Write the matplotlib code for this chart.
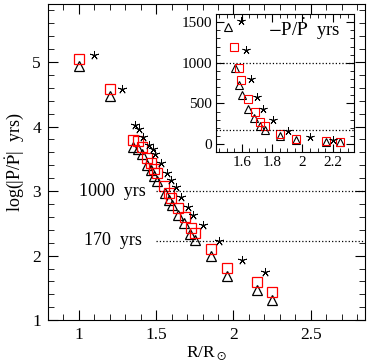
import numpy as np
import matplotlib.pyplot as plt
from matplotlib.ticker import MultipleLocator

plt.rcParams['font.family'] = 'Liberation Serif'
plt.rcParams['mathtext.fontset'] = 'stix'

# radius (R/Rsun) and log(|P/Pdot| yrs)
r_sq = [1.00, 1.20, 1.35, 1.383, 1.405, 1.443, 1.465, 1.486, 1.508, 1.55,
        1.583, 1.598, 1.641, 1.684, 1.723, 1.75, 1.852, 1.955, 2.153, 2.25]
lp_sq = [5.05, 4.58, 3.795, 3.77, 3.68, 3.51, 3.435, 3.343, 3.28, 3.077,
         2.974, 2.897, 2.743, 2.60, 2.426, 2.349, 2.10, 1.81, 1.585, 1.435]

r_tri = [1.00, 1.20, 1.35, 1.383, 1.405, 1.443, 1.465, 1.486, 1.508, 1.554,
         1.582, 1.602, 1.641, 1.679, 1.719, 1.752, 1.852, 1.955, 2.153, 2.25]
lp_tri = [4.94, 4.47, 3.69, 3.66, 3.57, 3.40, 3.33, 3.24, 3.16, 2.97,
          2.86, 2.785, 2.63, 2.50, 2.34, 2.25, 2.00, 1.69, 1.47, 1.32]

r_star = [1.10, 1.28, 1.363, 1.389, 1.417, 1.454, 1.479, 1.492, 1.529, 1.568,
          1.596, 1.626, 1.660, 1.703, 1.739, 1.804, 1.905, 2.052, 2.202]
lp_star = [5.11, 4.58, 4.026, 3.965, 3.846, 3.718, 3.657, 3.574, 3.435, 3.282,
           3.18, 3.065, 2.905, 2.76, 2.635, 2.478, 2.22, 1.94, 1.74]

fig = plt.figure(figsize=(3.75, 3.63), dpi=100)
ax = fig.add_axes([0.128, 0.118, 0.845, 0.871])

ax.plot(r_tri, lp_tri, ls='none', marker='^', ms=7.5, mfc='none', mec='black', mew=0.9)
ax.plot(r_sq, lp_sq, ls='none', marker='s', ms=7, mfc='none', mec='red', mew=0.9)
ax.plot(r_star, lp_star, ls='none', marker=(5, 2, 0), ms=6.5, color='black', mew=0.6)

ax.plot([1.5, 2.85], [3, 3], ls=':', color='black', lw=0.9)
ax.plot([1.5, 2.85], [np.log10(170)] * 2, ls=':', color='black', lw=0.9)
ax.text(1.0, 3.0, "1000  yrs", fontsize=13, va='center', ha='left')
ax.text(1.03, np.log10(170), "170  yrs", fontsize=13, va='center', ha='left')

ax.set_xlim(0.8, 2.85)
ax.set_ylim(1, 5.9)
ax.set_xticks([1, 1.5, 2, 2.5])
ax.set_xticklabels(["1", "1.5", "2", "2.5"])
ax.xaxis.set_minor_locator(MultipleLocator(0.1))
ax.yaxis.set_major_locator(MultipleLocator(1))
ax.yaxis.set_minor_locator(MultipleLocator(0.2))
ax.tick_params(which='both', direction='in', top=True, right=True, labelsize=12.5)
ax.tick_params(which='major', length=7, pad=5)
ax.tick_params(which='minor', length=4)
ax.set_xlabel(r"R/R$_\odot$", fontsize=12.5, labelpad=1)
ax.set_ylabel(r"log(|P/$\dot{\mathrm{P}}$|  yrs)", fontsize=13, labelpad=4)

# inset: -P/Pdot in years
ins = fig.add_axes([0.576, 0.581, 0.368, 0.380])
ins.plot(r_tri, 10 ** np.array(lp_tri), ls='none', marker='^', ms=6, mfc='none', mec='black', mew=0.8)
ins.plot(r_sq, 10 ** np.array(lp_sq), ls='none', marker='s', ms=5.5, mfc='none', mec='red', mew=0.8)
ins.plot(r_star, 10 ** np.array(lp_star), ls='none', marker=(5, 2, 0), ms=6, color='black', mew=0.6)
ins.axhline(1000, ls=':', color='black', lw=0.9)
ins.axhline(170, ls=':', color='black', lw=0.9)
ins.text(0.38, 0.84, r"$-$P/$\dot{\mathrm{P}}$  yrs", transform=ins.transAxes, fontsize=13.5)
ins.set_xlim(1.43, 2.34)
ins.set_ylim(-100, 1600)
ins.set_xticks([1.6, 1.8, 2.0, 2.2])
ins.set_xticklabels(["1.6", "1.8", "2", "2.2"])
ins.xaxis.set_minor_locator(MultipleLocator(0.05))
ins.yaxis.set_major_locator(MultipleLocator(500))
ins.yaxis.set_minor_locator(MultipleLocator(100))
ins.tick_params(which='both', direction='in', top=True, right=True, labelsize=11, pad=3)
ins.tick_params(which='major', length=6)
ins.tick_params(which='minor', length=3)

plt.savefig("out.png", dpi=100)
